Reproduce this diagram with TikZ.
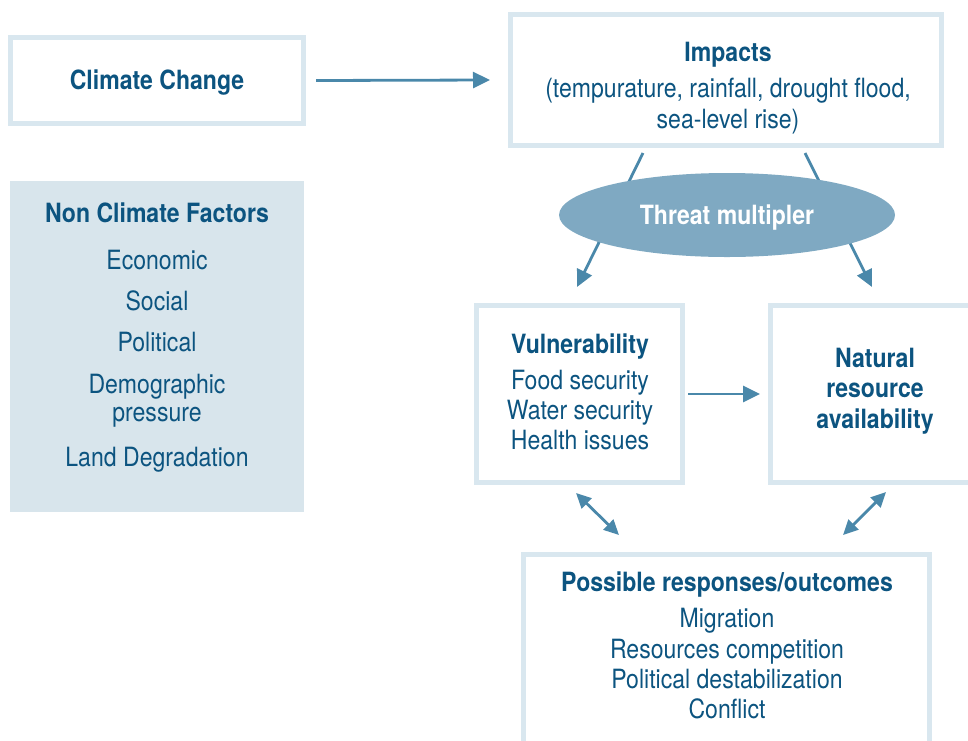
\documentclass[tikz,border=0pt]{standalone}
\usepackage{fontspec}
\setmainfont{TeX Gyre Heros}[FakeStretch=0.87]
\usetikzlibrary{arrows.meta,shapes.geometric,calc}

\definecolor{txtblue}{RGB}{12,84,128}
\definecolor{boxline}{RGB}{217,231,239}
\definecolor{boxfill}{RGB}{216,229,236}
\definecolor{arrowblue}{RGB}{74,136,170}
\definecolor{ovalfill}{RGB}{127,169,194}

\begin{document}
\begin{tikzpicture}[x=1pt, y=-1pt,
        font=\fontsize{26.5}{30}\selectfont, text=txtblue,
        box/.style={draw=boxline, line width=5pt, inner sep=0pt},
        words/.style={align=center, anchor=base, inner sep=0pt},
        flow/.style={draw=arrowblue, line width=2.8pt, -{Triangle[length=17pt,width=16pt]}},
        both/.style={draw=arrowblue, line width=2.8pt,
            {Triangle[length=15pt,width=14pt]}-{Triangle[length=15pt,width=14pt]}}]

        \useasboundingbox (0,0) rectangle (968,740);

        \node [box, minimum width=293pt, minimum height=86pt] (climate) at (157,80.5) {};
        \node [box, minimum width=431pt, minimum height=131pt] (impacts) at (726,80) {};
        \node [fill=boxfill, inner sep=0pt, minimum width=294pt, minimum height=331pt] (factors) at (157,346.5) {};
        \node [box, minimum width=206pt, minimum height=177pt] (vulner) at (579.5,394) {};
        \node [box, minimum width=205pt, minimum height=177pt] (natural) at (873,394) {};
        \node [box, minimum width=406pt, minimum height=206pt] (outcomes) at (726.5,657.5) {};

        % base of a multi-line block is its last line
        \node [words, font=\fontsize{26.5}{30}\selectfont\bfseries] (climateT) at (157,89) {Climate Change};

        \node [words] (impactsT) at (728,128)
        {{\bfseries Impacts}\\[6pt]
        (tempurature, rainfall, drought flood,\\[1pt]
        sea-level rise)};

        \node [words] (factorsT) at (157,466)
        {{\bfseries Non Climate Factors}\\[17pt]
        Economic\\[11pt]
        Social\\[11pt]
        Political\\[12pt]
        Demographic\\[-2pt]
        pressure\\[15pt]
        Land Degradation};

        \node [words] (vulnerT) at (580,449)
        {{\bfseries Vulnerability}\\[6pt]
        Food security\\
        Water security\\
        Health issues};

        \node [words, font=\fontsize{26.5}{30.5}\selectfont\bfseries] (naturalT) at (875,428)
        {Natural\\
        resource\\
        availability};

        \node [words] (outcomesT) at (727,718)
        {{\bfseries Possible responses/outcomes}\\[6pt]
        Migration\\[1pt]
        Resources competition\\
        Political destabilization\\
        Conflict};

        \draw [flow]
        ($(climate.east)+(10,0)$) -- ($(impacts.west)+(-18,0)$);

        \draw [flow]
        ($(vulner.east)+(3,0)$) -- ($(natural.west)+(-8,0)$);

        \coordinate (vulIn) at (577,287);
        \coordinate (natIn) at (872,287);

        \draw [flow]
        ($(impacts.south)+(-83,5)$) -- (vulIn);

        \draw [flow]
        ($(impacts.south)+(79,5)$) -- (natIn);

        \node [ellipse, fill=ovalfill, inner sep=0pt, minimum width=336pt, minimum height=84pt,
            text=white, text depth=0pt, font=\fontsize{26.5}{30}\selectfont\bfseries] (threat) at (727,215)
        {Threat multipler};

        \coordinate (vulOut) at (576,493);
        \coordinate (outLeft) at (619,535);
        \coordinate (natOut) at (886,492);
        \coordinate (outRight) at (843,535);

        \draw [both] (vulOut) -- (outLeft);

        \draw [both] (natOut) -- (outRight);
    \end{tikzpicture}
\end{document}
